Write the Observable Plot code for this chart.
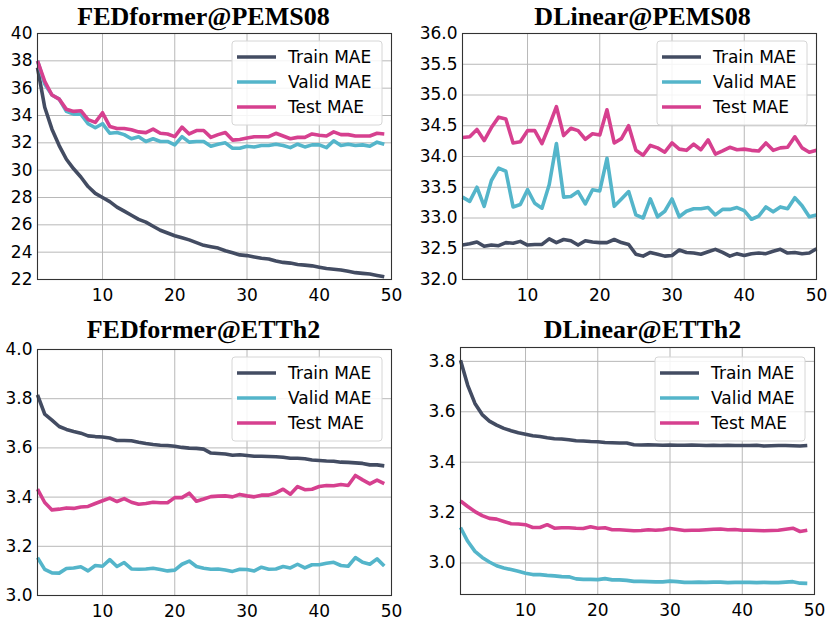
<!DOCTYPE html>
<html><head><meta charset="utf-8">
<script src="https://cdn.jsdelivr.net/npm/d3@7"></script>
<script src="https://cdn.jsdelivr.net/npm/@observablehq/plot@0.6"></script>
<style>
body{margin:0;background:#fff;}
#wrap{position:relative;width:830px;height:623px;overflow:hidden;}
.panel{position:absolute;}
</style></head><body><div id="wrap"></div>
<script>
const seriesNames = ["Train MAE", "Valid MAE", "Test MAE"];
const seriesColors = ["#434c62", "#54b5ca", "#d6408f"];
const panelTitles = ["FEDformer@PEMS08", "DLinear@PEMS08", "FEDformer@ETTh2", "DLinear@ETTh2"];
const xTicks = [10, 20, 30, 40, 50];
const yTicksFedPems = [22, 24, 26, 28, 30, 32, 34, 36, 38, 40];
const yTicksDlPems = [32.0, 32.5, 33.0, 33.5, 34.0, 34.5, 35.0, 35.5, 36.0];
const yTicksFedEtt = [3.0, 3.2, 3.4, 3.6, 3.8, 4.0];
const yTicksDlEtt = [3.0, 3.2, 3.4, 3.6, 3.8];

const fedPemsTrain = [37.5,34.6,33.0,31.8,30.8,30.1,29.5,28.8,28.3,28.0,27.7,27.3,27.0,26.7,26.4,26.2,25.9,25.6,25.4,25.2,25.05,24.9,24.7,24.5,24.4,24.3,24.1,23.95,23.8,23.75,23.65,23.55,23.5,23.35,23.25,23.2,23.1,23.05,23.0,22.9,22.8,22.75,22.7,22.6,22.5,22.45,22.4,22.3,22.2];
const fedPemsValid = [38.0,36.3,35.5,35.2,34.3,34.1,34.1,33.4,33.1,33.4,32.7,32.75,32.6,32.3,32.45,32.1,32.3,32.1,32.1,31.85,32.45,32.05,32.1,32.1,31.75,31.9,32.0,31.6,31.6,31.75,31.7,31.8,31.8,31.9,31.8,31.65,31.9,31.7,31.85,31.85,31.65,32.15,31.8,31.9,31.8,31.85,31.75,32.05,31.9];
const fedPemsTest = [38.0,36.5,35.5,35.2,34.45,34.3,34.35,33.7,33.5,34.2,33.2,33.05,33.05,32.95,32.8,32.75,33.0,32.7,32.65,32.45,33.15,32.65,32.9,32.9,32.4,32.6,32.75,32.2,32.25,32.35,32.45,32.45,32.45,32.7,32.5,32.3,32.4,32.4,32.65,32.55,32.5,32.8,32.6,32.6,32.5,32.5,32.5,32.7,32.65];

const dlPemsTrain = [32.56,32.58,32.61,32.54,32.56,32.55,32.6,32.59,32.62,32.56,32.57,32.57,32.66,32.6,32.65,32.63,32.56,32.63,32.61,32.6,32.6,32.65,32.6,32.57,32.41,32.38,32.44,32.41,32.38,32.39,32.48,32.44,32.43,32.41,32.45,32.49,32.44,32.38,32.42,32.39,32.42,32.43,32.42,32.46,32.49,32.43,32.44,32.42,32.43,32.5];
const dlPemsValid = [33.34,33.27,33.5,33.19,33.61,33.81,33.76,33.18,33.22,33.46,33.24,33.16,33.54,34.21,33.34,33.35,33.43,33.23,33.46,33.44,33.97,33.19,33.31,33.43,33.05,33.0,33.31,33.02,33.11,33.31,33.02,33.11,33.15,33.15,33.17,33.05,33.14,33.14,33.17,33.12,32.98,33.03,33.18,33.1,33.18,33.15,33.33,33.2,33.02,33.05];
const dlPemsTest = [34.31,34.32,34.44,34.26,34.47,34.64,34.61,34.22,34.24,34.42,34.42,34.21,34.5,34.81,34.34,34.46,34.42,34.28,34.37,34.35,34.76,34.22,34.29,34.5,34.1,34.02,34.18,34.14,34.07,34.22,34.12,34.1,34.2,34.11,34.27,34.04,34.09,34.15,34.11,34.12,34.1,34.09,34.22,34.1,34.14,34.15,34.32,34.14,34.07,34.1];

const fedEttTrain = [3.816,3.737,3.713,3.687,3.675,3.667,3.66,3.649,3.646,3.644,3.64,3.63,3.63,3.629,3.623,3.618,3.614,3.611,3.61,3.607,3.602,3.599,3.598,3.595,3.579,3.577,3.575,3.57,3.572,3.569,3.566,3.566,3.565,3.564,3.562,3.558,3.558,3.556,3.551,3.549,3.547,3.546,3.542,3.541,3.539,3.537,3.531,3.531,3.527];
const fedEttValid = [3.154,3.106,3.092,3.091,3.11,3.112,3.117,3.1,3.122,3.119,3.146,3.118,3.134,3.108,3.107,3.108,3.111,3.106,3.1,3.103,3.127,3.14,3.118,3.111,3.107,3.108,3.104,3.098,3.107,3.106,3.1,3.115,3.107,3.108,3.118,3.112,3.127,3.112,3.125,3.125,3.131,3.135,3.122,3.119,3.154,3.135,3.127,3.149,3.12];
const fedEttTest = [3.432,3.378,3.348,3.351,3.356,3.354,3.36,3.362,3.374,3.385,3.396,3.382,3.394,3.379,3.371,3.374,3.379,3.377,3.377,3.398,3.398,3.416,3.383,3.392,3.402,3.404,3.405,3.401,3.411,3.405,3.401,3.408,3.408,3.417,3.432,3.412,3.443,3.43,3.432,3.443,3.447,3.446,3.451,3.447,3.488,3.47,3.454,3.469,3.455];

const dlEttTrain = [3.804,3.705,3.633,3.589,3.563,3.547,3.534,3.525,3.517,3.511,3.505,3.502,3.497,3.493,3.492,3.489,3.485,3.484,3.482,3.481,3.478,3.477,3.476,3.476,3.469,3.468,3.469,3.468,3.467,3.468,3.467,3.467,3.468,3.467,3.466,3.467,3.466,3.467,3.466,3.466,3.466,3.467,3.464,3.465,3.466,3.466,3.465,3.464,3.466];
const dlEttValid = [3.141,3.086,3.046,3.022,3.004,2.989,2.98,2.974,2.967,2.959,2.954,2.954,2.951,2.949,2.946,2.945,2.937,2.935,2.935,2.934,2.938,2.933,2.933,2.931,2.927,2.927,2.926,2.925,2.925,2.928,2.926,2.923,2.923,2.924,2.923,2.924,2.924,2.922,2.923,2.923,2.923,2.922,2.923,2.922,2.922,2.924,2.926,2.92,2.919];
const dlEttTest = [3.246,3.224,3.204,3.188,3.177,3.174,3.165,3.156,3.155,3.152,3.141,3.141,3.152,3.138,3.14,3.14,3.138,3.137,3.144,3.138,3.14,3.132,3.132,3.13,3.128,3.129,3.132,3.13,3.132,3.137,3.133,3.129,3.13,3.13,3.132,3.134,3.135,3.132,3.133,3.13,3.13,3.129,3.128,3.129,3.13,3.134,3.138,3.125,3.13];

function toRows(series) {
  const rows = [];
  series.forEach((vals, s) => vals.forEach((v, i) => rows.push({epoch: i + 1, value: v, series: seriesNames[s]})));
  return rows;
}

const panels = [
  {title: panelTitles[0], data: [fedPemsTrain, fedPemsValid, fedPemsTest], yDomain: [22, 40], yTicks: yTicksFedPems, fmt: d3.format("d"),
   left: 0, top: 0, w: 415, h: 310, ml: 37, mr: 24, mt: 33, mb: 31, tdx: -11, tdy: -9, lgx: 9, lgy: 8},
  {title: panelTitles[1], data: [dlPemsTrain, dlPemsValid, dlPemsTest], yDomain: [32, 36], yTicks: yTicksDlPems, fmt: d3.format(".1f"),
   left: 415, top: 0, w: 415, h: 310, ml: 47, mr: 14, mt: 33, mb: 31, tdx: 3, tdy: -9, lgx: 9, lgy: 8},
  {title: panelTitles[2], data: [fedEttTrain, fedEttValid, fedEttTest], yDomain: [3.0, 4.0], yTicks: yTicksFedEtt, fmt: d3.format(".1f"),
   left: 0, top: 310, w: 415, h: 313, ml: 37, mr: 24, mt: 39, mb: 28, tdx: -11, tdy: -12, lgx: 9, lgy: 8},
  {title: panelTitles[3], data: [dlEttTrain, dlEttValid, dlEttTest], yDomain: [2.875, 3.855], yTicks: yTicksDlEtt, fmt: d3.format(".1f"),
   left: 415, top: 310, w: 415, h: 313, ml: 45, mr: 16, mt: 37, mb: 29, tdx: 5, tdy: -10, lgx: 9, lgy: 10}
];

const wrap = document.getElementById("wrap");
for (const p of panels) {
  const rows = toRows(p.data);
  const chart = Plot.plot({
    width: p.w, height: p.h,
    marginLeft: p.ml, marginRight: p.mr, marginTop: p.mt, marginBottom: p.mb,
    style: {fontFamily: "DejaVu Sans", fontSize: "17px", color: "#000", background: "transparent", overflow: "visible"},
    x: {domain: [1, 50], ticks: xTicks, tickSize: 0, tickPadding: 9, label: null},
    y: {domain: p.yDomain, ticks: p.yTicks, tickFormat: p.fmt, tickSize: 0, tickPadding: 5, label: null},
    color: {domain: seriesNames, range: seriesColors},
    marks: [
      Plot.gridX(xTicks, {stroke: "#b8b8b8", strokeOpacity: 1, strokeWidth: 1}),
      Plot.gridY(p.yTicks, {stroke: "#b8b8b8", strokeOpacity: 1, strokeWidth: 1}),
      Plot.line(rows, {x: "epoch", y: "value", z: "series", stroke: "series", strokeWidth: 3.6, strokeLinejoin: "round", strokeLinecap: "butt"}),
      Plot.frame({stroke: "#333", strokeWidth: 1.1}),
      Plot.text([p.title], {frameAnchor: "top", lineAnchor: "bottom", dx: p.tdx, dy: p.tdy, fontFamily: "Liberation Serif", fontWeight: "bold", fontSize: 26, fill: "#000"})
    ]
  });
  chart.classList.add("panel");
  chart.style.left = p.left + "px";
  chart.style.top = p.top + "px";
  wrap.appendChild(chart);

  // legend inside the axes (top right)
  const svg = d3.select(chart);
  const boxW = 150, boxH = 84;
  const bx = p.w - p.mr - p.lgx - boxW;
  const by = p.mt + p.lgy;
  const g = svg.append("g").attr("text-anchor", "start");
  g.append("rect").attr("x", bx).attr("y", by).attr("width", boxW).attr("height", boxH)
    .attr("rx", 3).attr("fill", "#fff").attr("fill-opacity", 0.85).attr("stroke", "#d6d6d6").attr("stroke-width", 1);
  seriesNames.forEach((name, i) => {
    const cy = by + 16 + i * 25;
    g.append("line").attr("x1", bx + 5).attr("x2", bx + 44).attr("y1", cy).attr("y2", cy)
      .attr("stroke", seriesColors[i]).attr("stroke-width", 3.6);
    g.append("text").attr("x", bx + 56).attr("y", cy).attr("dy", "0.36em")
      .attr("text-anchor", "start")
      .style("font-family", "DejaVu Sans").style("font-size", "17px").attr("fill", "#000").text(name);
  });
}
</script></body></html>
